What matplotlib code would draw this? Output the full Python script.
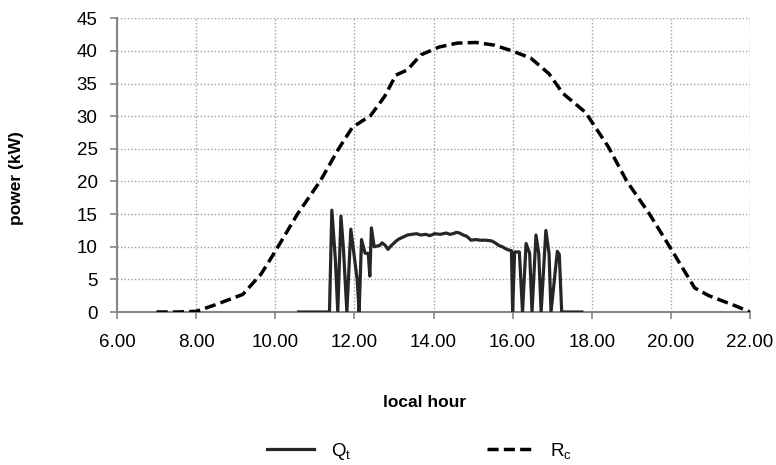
import matplotlib
matplotlib.use("Agg")
import matplotlib.pyplot as plt

plt.rcParams['font.family'] = ['Liberation Sans', 'DejaVu Sans']
plt.rcParams['mathtext.fontset'] = 'custom'
plt.rcParams['mathtext.rm'] = 'Liberation Sans'
plt.rcParams['mathtext.it'] = 'Liberation Sans'

# R_c (dashed) series
rc_hour = [7.0, 7.5, 8.0, 8.48, 9.18, 9.64, 9.99, 10.56, 11.14, 11.6, 11.95, 12.41,
           12.76, 13.05, 13.34, 13.68, 14.14, 14.6, 15.07, 15.53, 15.99, 16.46,
           16.92, 17.27, 17.84, 18.42, 18.88, 19.46, 19.98, 20.6, 20.96, 21.65, 22.0]
rc_kw = [0.0, 0.0, 0.1, 1.1, 2.7, 5.8, 9.2, 15.0, 20.1, 25.0, 28.3, 30.1,
         33.0, 36.3, 37.1, 39.4, 40.6, 41.2, 41.3, 40.9, 40.0, 38.9,
         36.5, 33.5, 30.6, 25.3, 20.1, 15.0, 9.9, 3.7, 2.5, 0.9, 0.0]

# Q_t (solid) series
qt_hour = [10.59, 11.37, 11.43, 11.52, 11.58, 11.66, 11.72, 11.81, 11.91, 12.07,
           12.12, 12.18, 12.27, 12.35, 12.39, 12.43, 12.50, 12.57, 12.64, 12.70,
           12.78, 12.85, 12.92, 12.99, 13.06, 13.13, 13.24, 13.34, 13.45, 13.57,
           13.68, 13.80, 13.91, 14.03, 14.17, 14.32, 14.41, 14.49, 14.58, 14.66,
           14.75, 14.84, 14.95, 15.06, 15.18, 15.32, 15.47, 15.56, 15.65, 15.74,
           15.82, 15.90, 15.97, 16.00, 16.05, 16.17, 16.25, 16.34, 16.43, 16.49,
           16.59, 16.66, 16.72, 16.84, 16.92, 16.97, 17.13, 17.18, 17.24, 17.75]
qt_kw = [0.0, 0.0, 15.6, 8.0, 0.0, 14.7, 10.0, 0.0, 12.7, 5.0,
         0.0, 11.1, 9.0, 9.0, 5.5, 12.9, 10.0, 10.1, 10.2, 10.6,
         10.2, 9.6, 10.1, 10.5, 10.9, 11.2, 11.5, 11.8, 11.9, 12.0,
         11.8, 11.9, 11.7, 12.0, 11.9, 12.1, 11.9, 12.0, 12.2, 12.1,
         11.8, 11.6, 11.0, 11.1, 11.0, 11.0, 10.9, 10.6, 10.2, 10.0,
         9.7, 9.5, 9.4, 0.0, 9.2, 9.2, 0.0, 10.5, 9.0, 0.0,
         11.8, 9.0, 0.0, 12.5, 9.0, 0.0, 9.3, 8.8, 0.0, 0.0]

x_ticks = [6, 8, 10, 12, 14, 16, 18, 20, 22]
x_labels = ['6.00', '8.00', '10.00', '12.00', '14.00', '16.00', '18.00', '20.00', '22.00']
y_ticks = [0, 5, 10, 15, 20, 25, 30, 35, 40, 45]

fig = plt.figure(figsize=(7.76, 4.65), dpi=100)
ax = fig.add_axes([0.1508, 0.329, 0.8157, 0.6316])

ax.plot(qt_hour, qt_kw, color='#262626', lw=2.3, solid_joinstyle='round',
        label='Q$_\\mathrm{t}$', zorder=3)
ax.plot(rc_hour, rc_kw, color='black', lw=2.5, dashes=(3.2, 1.5),
        label='R$_\\mathrm{c}$', zorder=4)

ax.set_xlim(6, 22)
ax.set_ylim(0, 45)
ax.set_xticks(x_ticks)
ax.set_xticklabels(x_labels)
ax.set_yticks(y_ticks)

ax.grid(True, color='#a0a0a0', linestyle=(0, (1, 1.5)), lw=1.0, zorder=0)
for s in ['top', 'right']:
    ax.spines[s].set_visible(False)
for s in ['left', 'bottom']:
    ax.spines[s].set_color('#868686')
    ax.spines[s].set_linewidth(1.5)
ax.tick_params(axis='both', direction='out', length=5, width=1.2, color='#868686',
               labelsize=13.5, labelcolor='black')
ax.tick_params(axis='x', pad=11)
ax.tick_params(axis='y', pad=9)

ax.set_xlabel('local hour', fontsize=12.5, fontweight='bold')
ax.set_ylabel('power (kW)', fontsize=12.5, fontweight='bold')
ax.xaxis.set_label_coords((425 - 117) / 633, (312 - 395) / 294)
ax.yaxis.set_label_coords((24 - 117) / 633, (312 - 178) / 294)

leg = fig.legend(loc='center', bbox_to_anchor=(0.541, 0.03), ncol=2, frameon=False,
                 fontsize=13.5, handlelength=2.5, columnspacing=7.2, handletextpad=0.9)

fig.savefig('out.png', dpi=100)
